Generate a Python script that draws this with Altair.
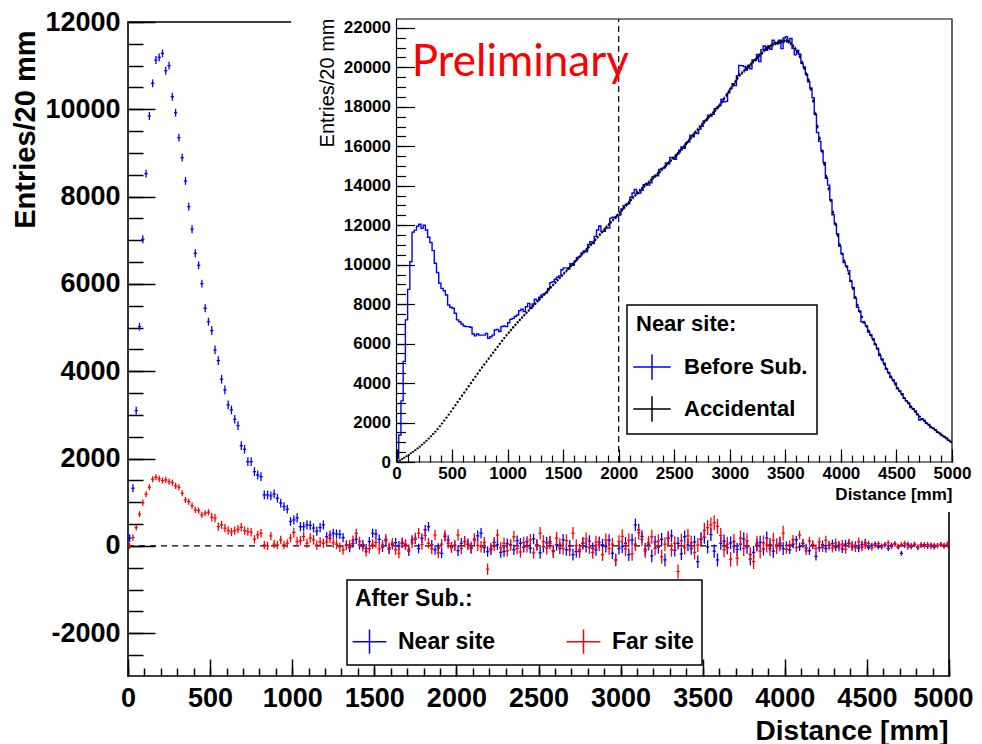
import altair as alt
import pandas as pd

# ---------------- data ----------------
BIN_WIDTH = 20  # mm, 250 bins from 0 to 5000 mm

# Main pad: after accidental subtraction
near_after = [
    176, 1321, 3098, 5022, 7023, 8526, 9847, 10595, 11129, 11190,
    11282, 10884, 11000, 10289, 9923, 9350, 8893, 8358, 7770, 7252,
    6702, 6428, 6007, 5443, 5137, 4931, 4488, 4244, 3817, 3572,
    3229, 3114, 2901, 2755, 2297, 2213, 1930, 1930, 1701, 1626,
    1587, 1168, 1168, 1145, 1190, 1090, 980, 900, 840, 560,
    595, 640, 440, 440, 481, 470, 410, 340, 420, 480,
    210, 250, 290, 270, 265, 190, 20, -40, 60, 150,
    20, 30, -60, 100, 290, 270, 150, -30, 115, -80,
    25, 75, 0, 60, 40, -120, 135, 155, -60, 175,
    370, 440, 25, -90, -50, -170, 210, 135, -20, 0,
    -110, 60, 100, 40, -60, 135, 230, 290, -40, -130,
    -90, 80, 25, -150, -130, 50, 25, -90, 120, 60,
    -30, 100, -55, 160, 25, -160, -15, 70, 100, -110,
    25, -55, 140, -90, 0, -200, -130, -90, 60, -15,
    110, -55, -90, 80, 25, -15, 130, -170, -320, -60,
    -15, 60, -200, 135, 480, 365, 215, -80, 40, -230,
    90, -30, 150, -320, 170, 230, -100, 60, -180, 210,
    20, -60, 90, -360, 150, 200, -20, 260, -120, -320,
    60, 110, -40, 70, -10, -80, 40, 160, -30, -300,
    -150, 20, 80, -70, 180, 30, -120, 20, 60, -60,
    10, -90, 40, 140, -20, 60, -50, -110, 20, -240,
    -40, 30, -60, 15, 50, -30, 20, -70, 40, 60,
    -20, 10, -50, 30, 70, -40, 15, 45, -25, 0,
    30, -60, 20, 50, -30, -170, 10, 40, -20, 25,
    -40, 15, 30, -10, 20, -25, 10, 35, -5, 20,
]

far_after = [
    0, 190, 420, 725, 990, 1183, 1343, 1526, 1572, 1534,
    1496, 1511, 1473, 1450, 1374, 1343, 1206, 1053, 1015, 923,
    824, 809, 710, 748, 770, 656, 634, 443, 481, 405,
    351, 321, 351, 382, 427, 351, 328, 313, 153, 252,
    290, 23, 0, 229, 40, 20, 140, 25, 60, 180,
    305, 100, 120, 215, 60, 180, 140, 20, 90, 60,
    90, 175, 70, 40, -30, -95, 10, 30, 130, 290,
    100, -20, -130, -60, 40, 80, -70, 20, 150, -40,
    60, -90, -170, 80, 20, -80, 70, 180, 290, 30,
    240, 60, -70, 250, -160, 40, 250, 60, -40, 20,
    250, -60, 100, 40, -30, 160, 10, -20, 80, -534,
    -60, 10, 250, -40, 60, -110, 15, 210, -60, -140,
    80, -20, 140, -160, 20, 290, 100, -50, 60, -130,
    180, 30, -60, 120, -90, 290, 10, -130, 60, 160,
    -40, -150, 90, 20, -200, 140, -60, 40, -320, 100,
    220, -70, 130, -180, 40, 300, 150, -120, 70, 210,
    -60, 110, -250, 40, 180, -90, 60, -588, 120, -40,
    230, 70, -150, 20, 160, 360, 420, 480, 530, 450,
    240, -90, 40, -305, 100, -282, 180, -60, 120, -200,
    -358, 60, -120, 70, 20, -60, 130, -20, 40, 290,
    -80, 30, 150, -40, 250, 60, -110, 110, 30, -60,
    90, -40, 130, 10, -50, 70, -30, 40, -80, 60,
    20, -40, 90, -20, 30, 60, -50, 10, 50, -30,
    20, 70, -20, 40, -10, 30, 60, -30, 10, 40,
    -20, 25, 0, 35, -15, 20, 5, 30, 10, 40,
]

# Inset: near site before subtraction (histogram) and accidental background
before_sub = [
    190, 1370, 3100, 5100, 7200, 8750, 10150, 11650, 11750, 11950,
    12050, 11840, 12000, 11760, 11390, 11120, 10710, 10070, 9600, 9060,
    8800, 8680, 8460, 7960, 7840, 7790, 7540, 7200, 7110, 6990,
    6890, 6860, 6860, 6830, 6490, 6390, 6490, 6430, 6430, 6430,
    6520, 6270, 6350, 6430, 6690, 6720, 6610, 6860, 6890, 6860,
    7060, 7230, 7280, 7370, 7450, 7670, 7740, 7620, 7870, 8040,
    7790, 8010, 8250, 8180, 8350, 8460, 8520, 8580, 8800, 9090,
    9140, 9260, 9360,
    9430, 9740, 9840, 9840, 9780, 10045, 9970, 10195, 10365, 10410,
    10590, 10690, 10650, 11025, 11165, 11070, 11435, 11760, 11960, 11675,
    11690, 11860, 11860, 12360, 12405, 12370, 12510, 12520, 12820, 12990,
    13060, 13090, 13415, 13630, 13810, 13600, 13630,
    13775, 14050, 14100, 14030, 14155, 14440, 14520, 14510, 14825,
    14880, 14905, 15150, 15110, 15440, 15420, 15345, 15600, 15795,
    15965, 15895, 16170, 16230, 16565, 16475, 16705, 16645, 16855,
    17015, 17285, 17330, 17575, 17530, 17615, 17910, 17980, 18070,
    18385, 18255, 18275, 18705, 18920, 19165, 19075, 19580, 20090,
    20085, 20045, 19860, 20090, 19930, 20370,
    20360, 20650, 20300, 20900, 21080, 20860, 21090, 20920, 21370, 21230,
    21190, 21370, 20950, 21490, 21550, 21280, 21460, 20960, 20630,
    20860, 20660, 20210, 20020, 19640, 19270,
    18940, 18460, 17620, 16700, 16250, 15770, 15180, 14380, 14030, 13280,
    12530, 12070, 11560, 10940, 10560, 10110, 9940, 9690, 9160, 8840,
    8300, 7840, 7640, 7110, 7050,
    6900, 6590, 6435, 6250, 5950, 5750, 5390, 5220, 5010, 4710,
    4530, 4280, 4160, 4000, 3710, 3595, 3455, 3225, 3100, 2990,
    2760, 2700, 2590, 2390, 2130, 2200, 2120, 1960, 1905, 1750,
    1715, 1640, 1510, 1460, 1335, 1290, 1225, 1095, 1040,
]

accidental = [
    20, 80, 150, 220, 290, 360, 440, 520, 600, 690,
    780, 880, 980, 1080, 1190, 1300, 1420, 1540, 1670, 1810,
    1950, 2100, 2250, 2400, 2560,
    2720, 2880, 3040, 3200, 3360, 3520, 3680, 3840, 4000, 4160,
    4320, 4480, 4640, 4790, 4940, 5090, 5240, 5390, 5540, 5690,
    5840, 5990, 6140, 6280, 6420,
    6560, 6690, 6820, 6950, 7080, 7200, 7320, 7440, 7560, 7680,
    7800, 7910, 8020, 8140, 8250, 8370, 8490, 8610, 8730, 8850,
    8970, 9090, 9210,
    9330, 9450, 9570, 9690, 9810, 9930, 10050, 10170, 10290, 10410,
    10530, 10650, 10770, 10890, 11010, 11130, 11260, 11390, 11520, 11650,
    11780, 11910, 12030, 12150, 12270, 12390, 12510, 12630,
    12760, 12890, 13020, 13150, 13280, 13400, 13520, 13640, 13760,
    13865, 13970, 14075, 14180, 14285, 14390, 14495, 14600, 14705,
    14820, 14935, 15050, 15165, 15280, 15395, 15505, 15615, 15725,
    15865, 16005, 16145, 16285, 16425, 16565, 16705, 16845, 16985,
    17105, 17225, 17345, 17465, 17585, 17705, 17830, 17955, 18085,
    18255, 18425, 18595, 18765, 18935, 19105, 19275, 19445, 19610,
    19720, 19830, 19940, 20050, 20160, 20280,
    20390, 20500, 20620, 20730, 20850, 20960,
    21030, 21100, 21160, 21210, 21250, 21280, 21310, 21340, 21350, 21300,
    21200, 21080, 20950,
    20800, 20550, 20250, 19950, 19650, 19350,
    18900, 18300, 17650, 17000, 16400, 15750, 15100, 14450, 13850, 13250,
    12650, 12050, 11500, 11000, 10550,
    10200, 9900, 9550, 9180, 8780, 8350, 7950, 7620, 7350, 7090,
    6870, 6650, 6420, 6200, 5980, 5730, 5460, 5180, 4950, 4730,
    4520, 4330, 4130, 3930, 3750, 3580, 3410, 3250, 3100, 2960,
    2820, 2680, 2540, 2420, 2300, 2190, 2080, 1980, 1880, 1790,
    1700, 1610, 1520, 1440, 1360, 1280, 1190, 1100, 1020,
]

# error bar half-lengths, one value per 500 mm stretch
near_err_seg = [90, 100, 105, 110, 120, 135, 145, 150, 95, 55]
far_err_seg = [70, 95, 110, 120, 130, 145, 160, 170, 100, 60]
acc_err_seg = [40, 60, 70, 80, 90, 100, 100, 100, 70, 45]

main_x_major = [0, 500, 1000, 1500, 2000, 2500, 3000, 3500, 4000, 4500, 5000]
main_y_major = [-2000, 0, 2000, 4000, 6000, 8000, 10000, 12000]
inset_y_major = [0, 2000, 4000, 6000, 8000, 10000, 12000, 14000, 16000, 18000, 20000, 22000]
x_minor = list(range(0, 5001, 100))
main_y_minor = list(range(-2500, 12001, 500))
inset_y_minor = list(range(0, 22001, 500))

MAIN_X = [0, 5000]
MAIN_Y = [-2980, 12000]
INSET_X = [0, 5000]
INSET_Y = [0, 22450]

# ---------------- tables ----------------
n = len(near_after)
lo = [k * BIN_WIDTH for k in range(n)]
hi = [v + BIN_WIDTH for v in lo]
mid = [v + BIN_WIDTH / 2 for v in lo]


def points_df(vals, err_seg, name):
    errs = [err_seg[min(k // 25, len(err_seg) - 1)] for k in range(len(vals))]
    return pd.DataFrame({
        "lo": lo[:len(vals)], "hi": hi[:len(vals)], "mid": mid[:len(vals)], "v": vals,
        "elo": [v - e for v, e in zip(vals, errs)],
        "ehi": [v + e for v, e in zip(vals, errs)],
        "series": name,
    })


main_pts = pd.concat([points_df(near_after, near_err_seg, "Near site"),
                      points_df(far_after, far_err_seg, "Far site")], ignore_index=True)
acc_pts = points_df(accidental, acc_err_seg, "Accidental")
before_df = pd.DataFrame({
    "x": lo[:len(before_sub)] + [INSET_X[1]],
    "v": before_sub + [before_sub[-1]],
    "series": "Before Sub.",
})

FONT = "Liberation Sans"
PLAIN = "'' + datum.value"

mx = alt.Scale(domain=MAIN_X, nice=False, zero=False)
my = alt.Scale(domain=MAIN_Y, nice=False, zero=False)
ix = alt.Scale(domain=INSET_X, range=[268.5, 824], nice=False, zero=False)
iy = alt.Scale(domain=INSET_Y, range=[440, -3], nice=False, zero=False)


def axis(**kw):
    base = dict(grid=False, domain=False, tickColor="black", labelColor="black",
                titleColor="black", labelFont=FONT, titleFont=FONT,
                labelFlush=False, labelOverlap=False)
    base.update(kw)
    return alt.Axis(**base)


ax_mx_major = axis(orient="bottom", offset=-17, tickSize=17, tickWidth=1.5,
                   values=main_x_major, labelFontSize=27, labelFontWeight="bold",
                   labelPadding=9, labelExpr=PLAIN,
                   labelOffset={"condition": {"test": "datum.value >= 5000", "value": -6},
                                "value": 0},
                   title="Distance [mm]", titleFontSize=28,
                   titleFontWeight="bold", titleX=820, titleY=80, titleAlign="right",
                   titleBaseline="alphabetic", titleAngle=0)
ax_mx_minor = axis(orient="bottom", offset=-8, tickSize=8, tickWidth=1.5,
                   values=x_minor, labels=False, title="")
ax_my_major = axis(orient="left", offset=-27, tickSize=27, tickWidth=1.5,
                   values=main_y_major, labelFontSize=27, labelFontWeight="bold",
                   labelPadding=8, labelExpr=PLAIN,
                   title="Entries/20 mm", titleFontSize=29, titleFontWeight="bold",
                   titleX=-130, titleY=8, titleAlign="right", titleBaseline="middle",
                   titleAngle=270)
ax_my_minor = axis(orient="left", offset=-15, tickSize=15, tickWidth=1.5,
                   values=main_y_minor, labels=False, title="")

ax_ix_major = axis(orient="bottom", offset=-227, tickSize=13, tickWidth=1.2,
                   values=main_x_major, labelFontSize=17, labelFontWeight="bold",
                   labelPadding=3, labelExpr=PLAIN, title="Distance [mm]", titleFontSize=17,
                   titleFontWeight="bold", titleX=824, titleY=50, titleAlign="right",
                   titleBaseline="alphabetic", titleAngle=0, zindex=1)
ax_ix_minor = axis(orient="bottom", offset=-221, tickSize=7, tickWidth=1.2,
                   values=x_minor, labels=False, title="", zindex=1)
ax_iy_major = axis(orient="left", offset=-286.5, tickSize=18, tickWidth=1.2,
                   values=inset_y_major, labelFontSize=17, labelFontWeight="bold",
                   labelPadding=6, labelExpr=PLAIN,
                   title="Entries/20 mm", titleFontSize=20, titleFontWeight="normal",
                   titleX=-87.5, titleY=-4, titleAlign="right", titleBaseline="middle",
                   titleAngle=270, zindex=1)
ax_iy_minor = axis(orient="left", offset=-277.5, tickSize=9, tickWidth=1.2,
                   values=inset_y_minor, labels=False, title="", zindex=1)

main_color = alt.Scale(domain=["Near site", "Far site"], range=["#0000ff", "#ff0000"])
inset_color = alt.Scale(domain=["Before Sub.", "Accidental"], range=["#0000ff", "#000000"])

legend_common = dict(orient="none", labelFont=FONT, labelFontWeight="bold",
                     labelColor="black", titleFont=FONT, titleFontWeight="bold",
                     titleColor="black", strokeColor="black", fillColor="white",
                     symbolStrokeWidth=1.5, labelLimit=400, titleLimit=400)
main_legend = alt.Legend(title="After Sub.:", legendX=219, legendY=558,
                         direction="horizontal", columns=2, columnPadding=67,
                         symbolType="M-1.25,0H1.25M0,-0.9V0.9", symbolSize=729,
                         labelFontSize=23, titleFontSize=23, labelOffset=14,
                         titlePadding=16, padding=8, **legend_common)
inset_legend = alt.Legend(title="Near site:", legendX=499, legendY=283,
                          direction="vertical", rowPadding=10,
                          symbolType="M-1.25,0H1.25M0,-0.85V0.85", symbolSize=900,
                          labelFontSize=22, titleFontSize=22, labelOffset=16,
                          titlePadding=15, padding=9, **legend_common)

# ---------------- main pad ----------------
frame_main = alt.Chart(pd.DataFrame({"x0": [MAIN_X[0]], "x1": [MAIN_X[1]],
                                     "y0": [MAIN_Y[0]], "y1": [MAIN_Y[1]]})).mark_rect(
    fillOpacity=0, stroke="black", strokeWidth=1.6
).encode(
    x=alt.X("x0:Q", scale=mx, axis=ax_mx_major), x2="x1",
    y=alt.Y("y0:Q", scale=my, axis=ax_my_major), y2="y1",
)

zero_line = alt.Chart(pd.DataFrame({"x0": [MAIN_X[0]], "x1": [MAIN_X[1]], "y": [0]})).mark_rule(
    color="black", strokeDash=[6, 5], strokeWidth=1.3
).encode(
    x=alt.X("x0:Q", scale=mx, axis=ax_mx_minor), x2="x1",
    y=alt.Y("y:Q", scale=my, axis=ax_my_minor),
)

main_h = alt.Chart(main_pts).mark_rule(strokeWidth=1.3).encode(
    x=alt.X("lo:Q", scale=mx, axis=None), x2="hi",
    y=alt.Y("v:Q", scale=my, axis=None),
    color=alt.Color("series:N", scale=main_color, legend=main_legend),
)
main_v = alt.Chart(main_pts).mark_rule(strokeWidth=1.3).encode(
    x=alt.X("mid:Q", scale=mx, axis=None),
    y=alt.Y("elo:Q", scale=my, axis=None), y2="ehi",
    color=alt.Color("series:N", scale=main_color, legend=main_legend),
)

main = alt.layer(frame_main, zero_line, main_h, main_v).resolve_axis(
    x="independent", y="independent")

# ---------------- inset pad ----------------
pad = alt.Chart(pd.DataFrame({"x0": [-949], "x1": [5270], "y0": [-2534], "y1": [23416]})).mark_rect(
    fill="white"
).encode(
    x=alt.X("x0:Q", scale=ix, axis=ax_ix_major), x2="x1",
    y=alt.Y("y0:Q", scale=iy, axis=ax_iy_major), y2="y1",
)

frame_inset = alt.Chart(pd.DataFrame({"x0": [INSET_X[0]], "x1": [INSET_X[1]],
                                      "y0": [INSET_Y[0]], "y1": [INSET_Y[1]]})).mark_rect(
    fillOpacity=0, stroke="black", strokeWidth=1.2
).encode(
    x=alt.X("x0:Q", scale=ix, axis=ax_ix_minor), x2="x1",
    y=alt.Y("y0:Q", scale=iy, axis=ax_iy_minor), y2="y1",
)

before_line = alt.Chart(before_df).mark_line(interpolate="step-after", strokeWidth=1.4).encode(
    x=alt.X("x:Q", scale=ix, axis=None),
    y=alt.Y("v:Q", scale=iy, axis=None),
    color=alt.Color("series:N", scale=inset_color, legend=inset_legend),
)

acc_h = alt.Chart(acc_pts).mark_rule(strokeWidth=1.5).encode(
    x=alt.X("lo:Q", scale=ix, axis=None), x2="hi",
    y=alt.Y("v:Q", scale=iy, axis=None),
    color=alt.Color("series:N", scale=inset_color, legend=inset_legend),
)
acc_v = alt.Chart(acc_pts).mark_rule(strokeWidth=1.0).encode(
    x=alt.X("mid:Q", scale=ix, axis=None),
    y=alt.Y("elo:Q", scale=iy, axis=None), y2="ehi",
    color=alt.Color("series:N", scale=inset_color, legend=inset_legend),
)

cut_line = alt.Chart(pd.DataFrame({"x": [2000], "y0": [INSET_Y[0]], "y1": [INSET_Y[1]]})).mark_rule(
    color="black", strokeDash=[6, 4], strokeWidth=1.2
).encode(
    x=alt.X("x:Q", scale=ix, axis=None),
    y=alt.Y("y0:Q", scale=iy, axis=None), y2="y1",
)

prelim = alt.Chart(pd.DataFrame({"x": [137], "y": [19564], "t": ["Preliminary"]})).mark_text(
    font="Lato", fontSize=44, color="#ff0000", align="left", baseline="alphabetic"
).encode(
    x=alt.X("x:Q", scale=ix, axis=None),
    y=alt.Y("y:Q", scale=iy, axis=None),
    text="t:N",
)

inset = alt.layer(pad, frame_inset, before_line, acc_h, acc_v, cut_line, prelim).resolve_axis(
    x="independent", y="independent")

chart = alt.layer(main, inset).resolve_scale(
    x="independent", y="independent", color="independent"
).properties(
    width=821, height=654,
    autosize=alt.AutoSizeParams(type="none"),
    padding={"left": 120, "top": 14, "right": 25, "bottom": 68},
).configure_view(strokeWidth=0).configure_legend(strokeWidth=1.5)

chart.save("out.html", embed_options={"renderer": "svg", "actions": False})
